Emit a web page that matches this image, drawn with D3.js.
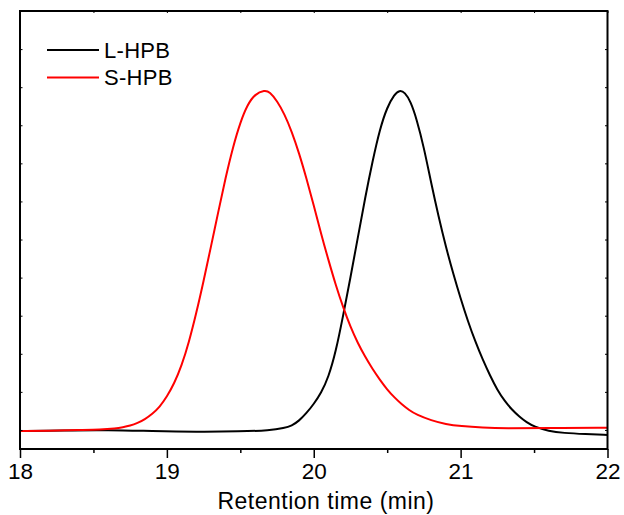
<!DOCTYPE html>
<html>
<head>
<meta charset="utf-8">
<script src="https://cdn.jsdelivr.net/npm/d3@7"></script>
<style>
  body { margin: 0; background: #fff; }
  svg { display: block; font-family: "Liberation Sans", Arial, sans-serif; }
</style>
</head>
<body>
<svg id="chart" width="624" height="515"></svg>
<script>
// ---- data ----
const seriesNames = ["L-HPB", "S-HPB"];
const seriesColors = ["#000000", "#ff0000"];
const xTicks = [18, 19, 20, 21, 22];
const xMinorTicks = [18.5, 19.5, 20.5, 21.5];
const yTicks = [0, 0.1, 0.2, 0.3, 0.4, 0.5, 0.6, 0.7, 0.8, 0.9, 1.0, 1.1];

const lhpbTime = [18.00, 18.30, 18.60, 18.90, 19.20, 19.50, 19.70, 19.80, 19.85, 19.90, 19.95, 20.00, 20.05, 20.10, 20.15, 20.20, 20.25, 20.30, 20.35, 20.40, 20.45, 20.50, 20.55, 20.583, 20.62, 20.66, 20.70, 20.75, 20.80, 20.85, 20.90, 20.95, 21.00, 21.05, 21.10, 21.15, 21.20, 21.25, 21.30, 21.35, 21.40, 21.45, 21.50, 21.60, 21.70, 21.85, 22.00];
const lhpbValue = [-0.003, -0.001, 0.000, -0.003, -0.005, -0.004, -0.001, 0.005, 0.011, 0.024, 0.044, 0.068, 0.097, 0.138, 0.205, 0.300, 0.400, 0.505, 0.610, 0.705, 0.790, 0.848, 0.882, 0.892, 0.887, 0.862, 0.817, 0.742, 0.647, 0.560, 0.480, 0.410, 0.345, 0.285, 0.232, 0.185, 0.143, 0.105, 0.076, 0.053, 0.035, 0.020, 0.009, -0.003, -0.008, -0.011, -0.013];

const shpbTime = [18.00, 18.20, 18.40, 18.55, 18.65, 18.70, 18.75, 18.80, 18.85, 18.90, 18.95, 19.00, 19.05, 19.10, 19.15, 19.20, 19.25, 19.30, 19.35, 19.40, 19.45, 19.50, 19.55, 19.60, 19.665, 19.70, 19.75, 19.80, 19.85, 19.90, 19.95, 20.00, 20.05, 20.10, 20.15, 20.20, 20.25, 20.30, 20.35, 20.40, 20.45, 20.50, 20.55, 20.60, 20.65, 20.70, 20.80, 20.90, 21.00, 21.15, 21.30, 21.60, 22.00];
const shpbValue = [-0.003, -0.002, 0.000, 0.001, 0.004, 0.007, 0.011, 0.018, 0.028, 0.042, 0.060, 0.087, 0.122, 0.168, 0.230, 0.306, 0.391, 0.481, 0.573, 0.663, 0.743, 0.808, 0.855, 0.882, 0.892, 0.888, 0.864, 0.830, 0.784, 0.727, 0.661, 0.590, 0.515, 0.446, 0.380, 0.322, 0.270, 0.228, 0.192, 0.160, 0.132, 0.106, 0.085, 0.067, 0.052, 0.040, 0.025, 0.015, 0.010, 0.006, 0.004, 0.005, 0.006];

const series = [
  { name: seriesNames[0], color: seriesColors[0], pts: lhpbTime.map((t, i) => [t, lhpbValue[i]]) },
  { name: seriesNames[1], color: seriesColors[1], pts: shpbTime.map((t, i) => [t, shpbValue[i]]) }
];

// ---- layout ----
const svg = d3.select("#chart");
const padL = 20, padR = 607.5, padT = 11, padB = 449;

const x = d3.scaleLinear().domain([18, 22]).range([padL, padR]);
const y = d3.scaleLinear().domain([-0.05, 1.1]).range([padB, padT]);

const line = d3.line()
  .x(d => x(d[0])).y(d => y(d[1]))
  .curve(d3.curveBasis);

svg.append("clipPath").attr("id", "clip")
  .append("rect").attr("x", padL).attr("y", padT).attr("width", padR - padL).attr("height", padB - padT);

svg.append("g").attr("clip-path", "url(#clip)")
  .selectAll("path").data(series).join("path")
  .attr("d", d => line(d.pts))
  .attr("fill", "none")
  .attr("stroke", d => d.color)
  .attr("stroke-width", 2)
  .attr("stroke-linejoin", "round");

// bottom axis: major ticks outward
const gBottom = svg.append("g").attr("transform", `translate(0,${padB})`)
  .call(d3.axisBottom(x).tickValues(xTicks).tickSize(9).tickPadding(5).tickFormat(d3.format("d")));
gBottom.select(".domain").remove();
gBottom.selectAll(".tick line").attr("stroke", "#000").attr("stroke-width", 1.5);
gBottom.selectAll(".tick text").attr("font-size", 22.5).attr("fill", "#000")
  .attr("font-family", "Liberation Sans, Arial, sans-serif");

// bottom minor ticks
svg.append("g").attr("transform", `translate(0,${padB})`)
  .call(d3.axisBottom(x).tickValues(xMinorTicks).tickSize(4).tickFormat(""))
  .call(g => g.select(".domain").remove())
  .call(g => g.selectAll(".tick line").attr("stroke", "#000").attr("stroke-width", 1.5));

// top axis: small inward ticks
svg.append("g").attr("transform", `translate(0,${padT})`)
  .call(d3.axisBottom(x).tickValues(xTicks.concat(xMinorTicks)).tickSize(2).tickFormat(""))
  .call(g => g.select(".domain").remove())
  .call(g => g.selectAll(".tick line").attr("stroke", "#000").attr("stroke-width", 1));

// left and right axes: small inward ticks, no labels
svg.append("g").attr("transform", `translate(${padL},0)`)
  .call(d3.axisRight(y).tickValues(yTicks).tickSize(2.5).tickFormat(""))
  .call(g => g.select(".domain").remove())
  .call(g => g.selectAll(".tick line").attr("stroke", "#000").attr("stroke-width", 1));
svg.append("g").attr("transform", `translate(${padR},0)`)
  .call(d3.axisLeft(y).tickValues(yTicks).tickSize(2.5).tickFormat(""))
  .call(g => g.select(".domain").remove())
  .call(g => g.selectAll(".tick line").attr("stroke", "#000").attr("stroke-width", 1));

// frame
svg.append("rect")
  .attr("x", padL).attr("y", padT)
  .attr("width", padR - padL).attr("height", padB - padT)
  .attr("fill", "none").attr("stroke", "#000").attr("stroke-width", 2);

// x title
svg.append("text")
  .attr("x", 326).attr("y", 509)
  .attr("text-anchor", "middle")
  .attr("font-size", 23)
  .attr("letter-spacing", "0.5px")
  .attr("fill", "#000")
  .text("Retention time (min)");

// legend
const legend = svg.append("g");
series.forEach((s, i) => {
  const ly = 50 + i * 27.5;
  legend.append("line")
    .attr("x1", 47).attr("x2", 99).attr("y1", ly).attr("y2", ly)
    .attr("stroke", s.color).attr("stroke-width", 2);
  legend.append("text")
    .attr("x", 104).attr("y", ly + 7.8)
    .attr("font-size", 22)
    .attr("letter-spacing", "0.3px")
    .attr("fill", "#000")
    .text(s.name);
});
</script>
</body>
</html>
